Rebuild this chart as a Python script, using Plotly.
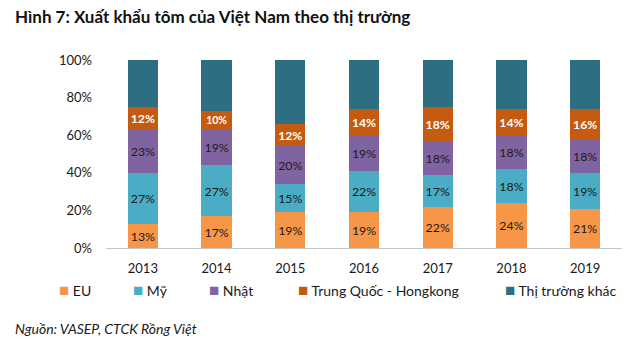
import plotly.graph_objects as go

years = ["2013", "2014", "2015", "2016", "2017", "2018", "2019"]
eu = [13, 17, 19, 19, 22, 24, 21]
my = [27, 27, 15, 22, 17, 18, 19]
nhat = [23, 19, 20, 19, 18, 18, 18]
tq_hk = [12, 10, 12, 14, 18, 14, 16]
khac = [25, 27, 34, 26, 25, 26, 26]

series_names = ["EU", "Mỹ", "Nhật", "Trung Quốc - Hongkong", "Thị trường khác"]
series_vals = [eu, my, nhat, tq_hk, khac]
colors = ["#F79646", "#4BACC6", "#8064A2", "#C55A11", "#2D6E82"]
label_colors = ["#1a1a1a", "#1a1a1a", "#1a1a1a", "#ffffff", None]
y_ticks = [0, 20, 40, 60, 80, 100]
legend_x_px = [58, 132, 208, 297, 504]

FONT = "Lato, 'Liberation Sans', sans-serif"
W, H = 640, 347
L, R, T, B = 106, 18, 60, 99
plot_w = W - L - R
plot_h = H - T - B


def px_x(px):
    return (px - L) / plot_w


def px_y(py):
    return (T + plot_h - py) / plot_h


fig = go.Figure()
for i, (name, vals) in enumerate(zip(series_names, series_vals)):
    show_text = label_colors[i] is not None
    fig.add_trace(go.Bar(
        x=years, y=vals, name=name,
        marker=dict(color=colors[i], line=dict(width=0)),
        text=[f"{v}%" for v in vals] if show_text else None,
        textposition="inside" if show_text else "none",
        insidetextanchor="middle",
        textangle=0,
        textfont=dict(family=FONT, size=14, color=label_colors[i] or "#000",
                      weight="bold" if i == 3 else "normal"),
        showlegend=False,
        hoverinfo="skip",
    ))

annotations = [
    dict(text="<b>Hình 7: Xuất khẩu tôm của Việt Nam theo thị trường</b>",
         xref="paper", yref="paper", x=px_x(13), y=px_y(17),
         xanchor="left", yanchor="middle", showarrow=False,
         font=dict(family=FONT, size=17, color="#111111")),
    dict(text="<i>Nguồn: VASEP, CTCK Rồng Việt</i>",
         xref="paper", yref="paper", x=px_x(13), y=px_y(328),
         xanchor="left", yanchor="middle", showarrow=False,
         font=dict(family=FONT, size=14, color="#1a1a1a")),
]
for name, c, px in zip(series_names, colors, legend_x_px):
    annotations.append(dict(
        text=f"<span style='color:{c};font-size:17px'>■</span> {name}",
        xref="paper", yref="paper", x=px_x(px), y=px_y(289),
        xanchor="left", yanchor="middle", showarrow=False, borderpad=0,
        font=dict(family=FONT, size=14, color="#1a1a1a"),
    ))

fig.update_layout(
    width=W, height=H,
    margin=dict(l=L, r=R, t=T, b=B, pad=0),
    paper_bgcolor="white", plot_bgcolor="white",
    barmode="stack", bargap=0.59,
    font=dict(family=FONT, size=12, color="#1a1a1a"),
    showlegend=False,
    xaxis=dict(
        type="category", showgrid=False, zeroline=False,
        showline=True, linecolor="#BFC7CC", linewidth=1,
        ticks="", tickfont=dict(family=FONT, size=13, color="#1a1a1a"),
        ticklabelstandoff=8,
    ),
    yaxis=dict(
        range=[0, 100], tickvals=y_ticks, ticktext=[f"{v}%" for v in y_ticks],
        showgrid=False, zeroline=False, showline=False, ticks="",
        tickfont=dict(family=FONT, size=13, color="#1a1a1a"),
        ticklabelstandoff=13,
    ),
    annotations=annotations,
)

fig.write_html("out.html")
